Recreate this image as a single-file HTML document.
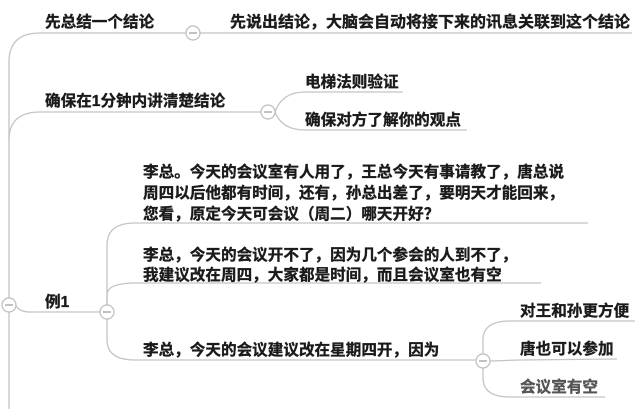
<!DOCTYPE html>
<html><head><meta charset="utf-8"><style>
html,body{margin:0;padding:0;background:#fff;}
svg{display:block}
text{font-family:"Liberation Sans","Noto Sans CJK SC",sans-serif;font-size:15.6px;font-weight:bold;fill:#1a1a1a;stroke:#1a1a1a;stroke-width:0.35;}
</style></head><body>
<svg width="640" height="409" viewBox="0 0 640 409" xmlns="http://www.w3.org/2000/svg">
<g fill="none" stroke="#c4c4c4" stroke-width="1.3">
<path d="M9 409 L9 62 Q9 33 40 33 L186 33"/>
<path d="M200 33 L632 33"/>
<path d="M9 140 Q9 112 40 112 L261 112"/>
<path d="M275 112 Q282 92 305 92 L403 92"/>
<path d="M275 112 Q282 130 305 130 L467 130"/>
<path d="M16 306 Q20 312 30 312 L100 312"/>
<path d="M107 305 L107 245 Q107 223 135 223 L588 223"/>
<path d="M107 305 L107 300 L107 295 Q107 283 135 283 L541 283"/>
<path d="M107 319 L107 340 Q107 360 135 360 L476 360"/>
<path d="M490 361 L520 360 L617 359"/>
<path d="M483 354 L483 340 Q483 321 510 321 L635 321"/>
<path d="M483 368 L483 378 Q483 397 510 397 L605 397"/>
</g>
<g fill="#fff" stroke="#bdbdbd" stroke-width="1.2">
<circle cx="193" cy="33" r="7"/>
<circle cx="268" cy="112" r="7"/>
<circle cx="9" cy="305" r="7"/>
<circle cx="107" cy="312" r="7"/>
<circle cx="483" cy="361" r="7"/>
</g>
<g stroke="#999" stroke-width="1.2">
<line x1="189" y1="33" x2="197" y2="33"/>
<line x1="264" y1="112" x2="272" y2="112"/>
<line x1="5" y1="305" x2="13" y2="305"/>
<line x1="103" y1="312" x2="111" y2="312"/>
<line x1="479" y1="361" x2="487" y2="361"/>
</g>
<text x="45" y="27">先总结一个结论</text>
<text x="230" y="27" textLength="400" lengthAdjust="spacingAndGlyphs">先说出结论，大脑会自动将接下来的讯息关联到这个结论</text>
<text x="45" y="106">确保在1分钟内讲清楚结论</text>
<text x="305" y="87">电梯法则验证</text>
<text x="305" y="125">确保对方了解你的观点</text>
<text x="143" y="177">李总。今天的会议室有人用了，王总今天有事请教了，唐总说</text>
<text x="143" y="198">周四以后他都有时间，还有，孙总出差了，要明天才能回来，</text>
<text x="143" y="219">您看，原定今天可会议（周二）哪天开好？</text>
<text x="143" y="260">李总，今天的会议开不了，因为几个参会的人到不了，</text>
<text x="143" y="280">我建议改在周四，大家都是时间，而且会议室也有空</text>
<text x="45" y="307">例1</text>
<text x="143" y="355">李总，今天的会议建议改在星期四开，因为</text>
<text x="520" y="316">对王和孙更方便</text>
<text x="520" y="354">唐也可以参加</text>
<text x="520" y="392" style="fill:#555;stroke:#555">会议室有空</text>
</svg>
</body></html>
